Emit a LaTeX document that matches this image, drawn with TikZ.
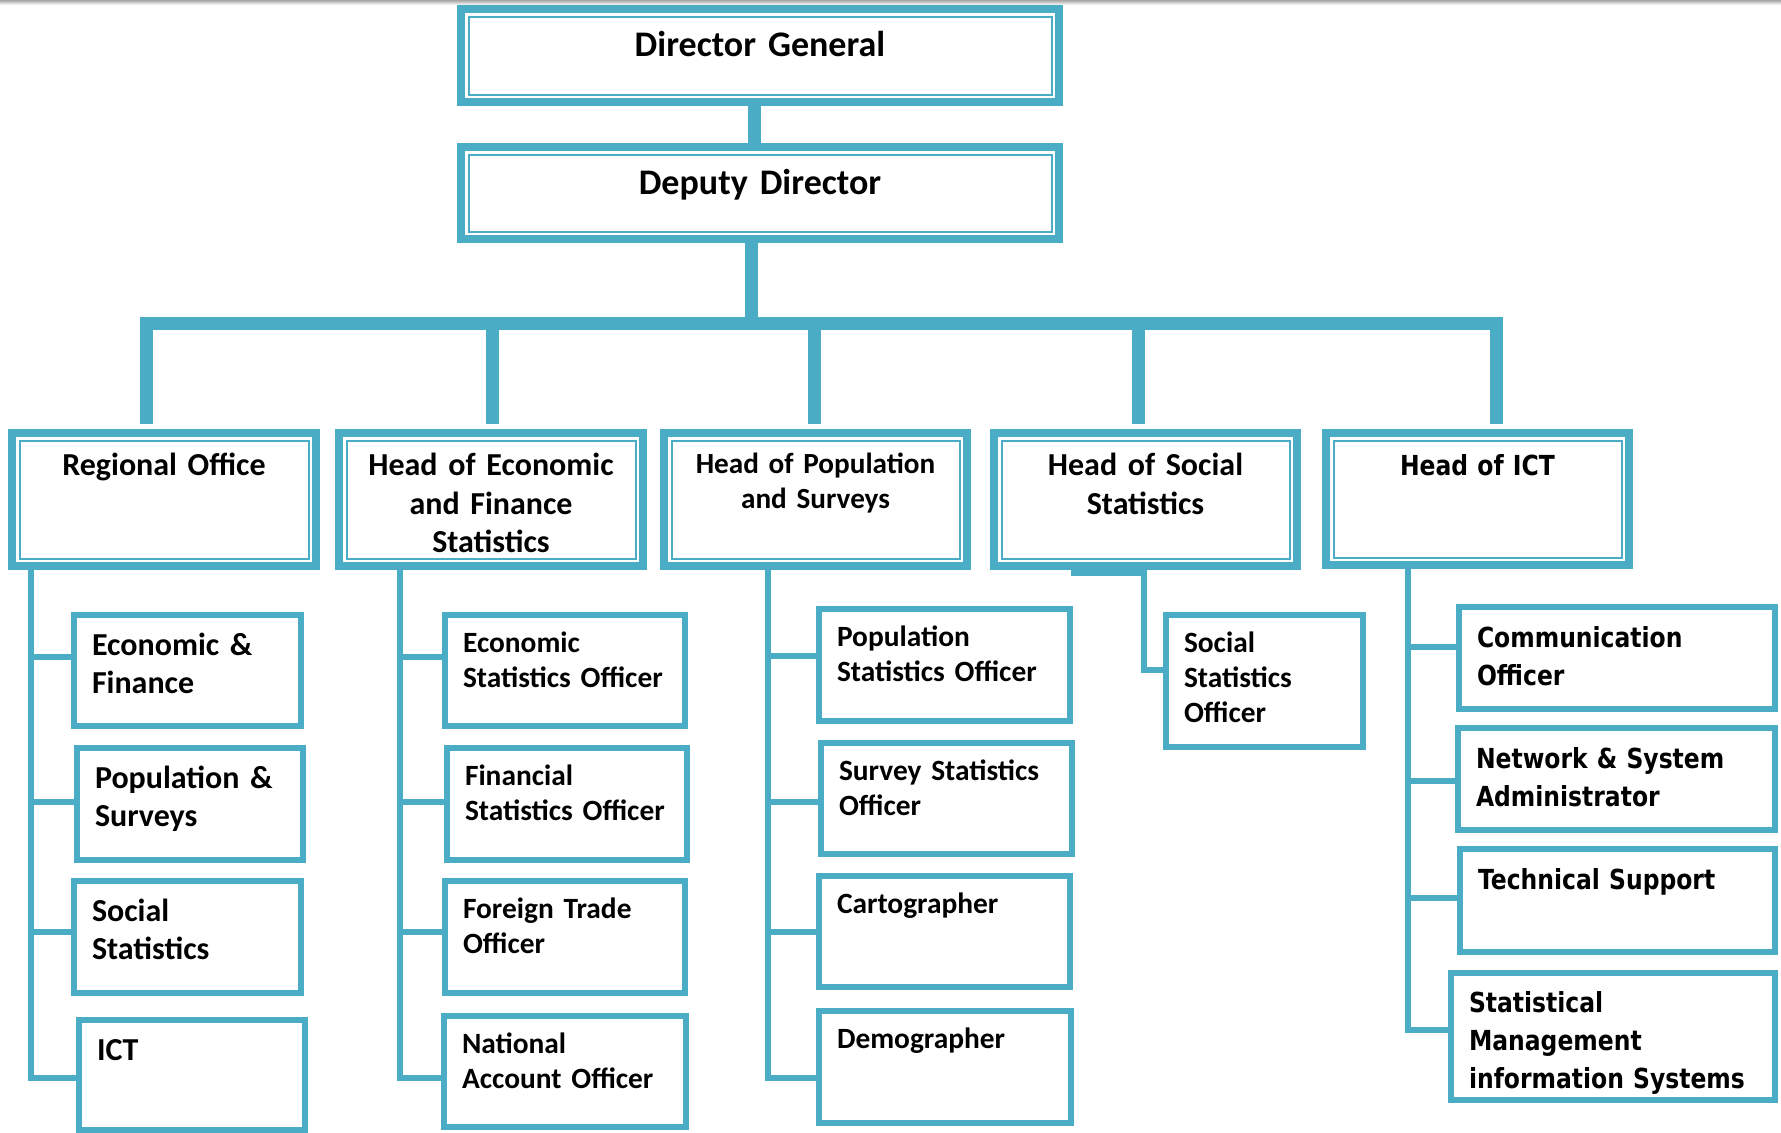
\documentclass[tikz,border=0pt]{standalone}
\usepackage{fontspec}
\setmainfont{Carlito}
\newfontfamily\ictfont[FakeStretch=0.85]{DejaVu Sans}
\definecolor{accent}{RGB}{75, 172, 198}

\tikzset{
  headbox/.style={draw=accent, line width=4pt, outer sep=2pt, inner sep=0pt, anchor=north west, align=center, font=\bfseries\fontsize{16}{19.2}\selectfont},
  leafbox/.style={draw=accent, line width=3pt, outer sep=1.5pt, inner xsep=9pt, inner ysep=0pt, anchor=north west, align=left, font=\bfseries\fontsize{14.7}{17.4}\selectfont},
  % width, height (px), first baseline (pt)
  head/.code n args={3}{%
    \pgfmathsetmacro\bxw{#1*0.5-4}%
    \pgfmathsetmacro\bxd{#2*0.5-4-#3}%
    \edef\bxopts{\noexpand\pgfkeysalso{headbox, text width=\bxw pt, text height=#3pt, text depth=\bxd pt}}\bxopts},
  leaf/.code n args={3}{%
    \pgfmathsetmacro\bxw{#1*0.5-21}%
    \pgfmathsetmacro\bxd{#2*0.5-3-#3}%
    \edef\bxopts{\noexpand\pgfkeysalso{leafbox, text width=\bxw pt, text height=#3pt, text depth=\bxd pt}}\bxopts},
  bigtext/.style={font=\bfseries\fontsize{16}{19.2}\selectfont},
  icttext/.style={font=\ictfont\bfseries\fontsize{13.8}{19.2}\selectfont},
  trunk/.style={draw=accent, line width=6.5pt},
  branch/.style={draw=accent, line width=3pt},
  innerline/.style={draw=accent, line width=1pt}
}

\begin{document}
\begin{tikzpicture}[x=0.5pt, y=-0.5pt]

\useasboundingbox (0,0) rectangle (1781,1132);
\shade[top color=black!35, bottom color=white] (0,0) rectangle (1781,5);

% top of the chart
\node[head={606}{101}{23.5}, font=\bfseries\fontsize{18}{21.6}\selectfont] (dg) at (457,5) {Director General};
\node[head={606}{100}{23.5}, font=\bfseries\fontsize{18}{21.6}\selectfont] (dd) at (457,143) {Deputy Director};

% heads
\node[head={312}{141}{21.3}] (reg) at (8,429) {Regional Office};
\node[head={312}{141}{21.3}] (hef) at (335,429) {Head of Economic\\and Finance\\Statistics};
\node[head={311}{141}{20.4}, font=\bfseries\fontsize{14.6}{17.2}\selectfont] (hps) at (660,429) {Head of Population\\and Surveys};
\node[head={311}{141}{21.3}] (hss) at (990,429) {Head of Social\\Statistics};
\node[head={311}{140}{21}, icttext] (hict) at (1322,429) {Head of ICT};

\foreach \n in {dg, dd, reg, hef, hps, hss, hict}
  \draw[innerline] ([shift={(11.5,-11.5)}]\n.south west) rectangle ([shift={(-11.5,11.5)}]\n.north east);

% regional office
\node[leaf={233}{117}{20}, bigtext] (ef) at (71,612) {Economic \&\\Finance};
\node[leaf={232}{118}{20}, bigtext] (ps) at (74,745) {Population \&\\Surveys};
\node[leaf={233}{118}{20}, bigtext] (ss) at (71,878) {Social\\Statistics};
\node[leaf={232}{116}{20}, bigtext] (ict) at (76,1017) {ICT};

% economic and finance
\node[leaf={246}{117}{18.9}] (eso) at (442,612) {Economic\\Statistics Officer};
\node[leaf={246}{118}{18.9}] (fso) at (444,745) {Financial\\Statistics Officer};
\node[leaf={246}{118}{18.9}] (fto) at (442,878) {Foreign Trade\\Officer};
\node[leaf={248}{117}{18.9}] (nao) at (441,1013) {National\\Account Officer};

% population and surveys
\node[leaf={257}{118}{18.9}] (pso) at (816,606) {Population\\Statistics Officer};
\node[leaf={257}{117}{18.9}] (svo) at (818,740) {Survey Statistics\\Officer};
\node[leaf={257}{117}{18.9}] (carto) at (816,873) {Cartographer};
\node[leaf={258}{118}{18.9}] (demo) at (816,1008) {Demographer};

% social statistics
\node[leaf={203}{138}{18.9}] (soc) at (1163,612) {Social\\Statistics\\Officer};

% ict
\node[leaf={322}{108}{20.2}, icttext] (comm) at (1456,604) {Communication\\Officer};
\node[leaf={323}{108}{20.2}, icttext] (net) at (1455,725) {Network \& System\\Administrator};
\node[leaf={321}{109}{20.2}, icttext] (tech) at (1457,846) {Technical Support};
\node[leaf={330}{133}{19.5}, icttext] (smis) at (1448,970) {Statistical\\Management\\information Systems};

% trunk
\draw[trunk] ([xshift=-3pt]dg.south) -- ([xshift=-3pt]dd.north);
\path ([shift={(-8.5,80.5)}]dd.south) coordinate (bar);
\draw[trunk] ([xshift=-4.25pt]dd.south) -- (bar);
\foreach \n/\s in {reg/-8.65, hef/0.65, hps/-0.6, hss/-3.4, hict/9.6} {
  \path ([xshift=\s pt, yshift=2.5pt]\n.north) coordinate (t\n);
  \draw[trunk] (t\n |- bar) -- (t\n);
}
\draw[trunk, line cap=rect] (treg |- bar) -- (thict |- bar);

% branches under regional office
\path ([xshift=-20pt]ef.west) coordinate (c1);
\foreach \n/\o in {ef/7, ps/1.1, ss/2.5, ict/-1.35}
  \path ([yshift=\o pt]\n.west) coordinate (b\n);
\draw[branch] (c1 |- reg.south) |- (bict);
\foreach \n in {ef, ps, ss}
  \draw[branch] (b\n) -- (b\n -| c1);

% branches under economic and finance
\path ([xshift=-21pt]eso.west) coordinate (c2);
\foreach \n/\o in {eso/7, fso/1.1, fto/2.5, nao/-3.1}
  \path ([yshift=\o pt]\n.west) coordinate (b\n);
\draw[branch] (c2 |- hef.south) |- (bnao);
\foreach \n in {eso, fso, fto}
  \draw[branch] (b\n) -- (b\n -| c2);

% branches under population and surveys
\path ([xshift=-24pt]pso.west) coordinate (c3);
\foreach \n/\o in {pso/4.3, svo/-1.65, carto/-0.25, demo/-5.35}
  \path ([yshift=\o pt]\n.west) coordinate (b\n);
\draw[branch] (c3 |- hps.south) |- (bdemo);
\foreach \n in {pso, svo, carto}
  \draw[branch] (b\n) -- (b\n -| c3);

% social statistics link
\draw[branch] ([shift={(-74.5,3)}]hss.south) -- ([shift={(-2,3)}]hss.south) |- ([yshift=5.5pt]soc.west);

% branches under ict
\path ([xshift=-24pt]comm.west) coordinate (c5);
\foreach \n/\o in {comm/5.5, net/-1, tech/1.4, smis/3.25}
  \path ([yshift=\o pt]\n.west) coordinate (b\n);
\draw[branch] (c5 |- hict.south) |- (bsmis);
\foreach \n in {comm, net, tech}
  \draw[branch] (b\n) -- (b\n -| c5);

\end{tikzpicture}
\end{document}
